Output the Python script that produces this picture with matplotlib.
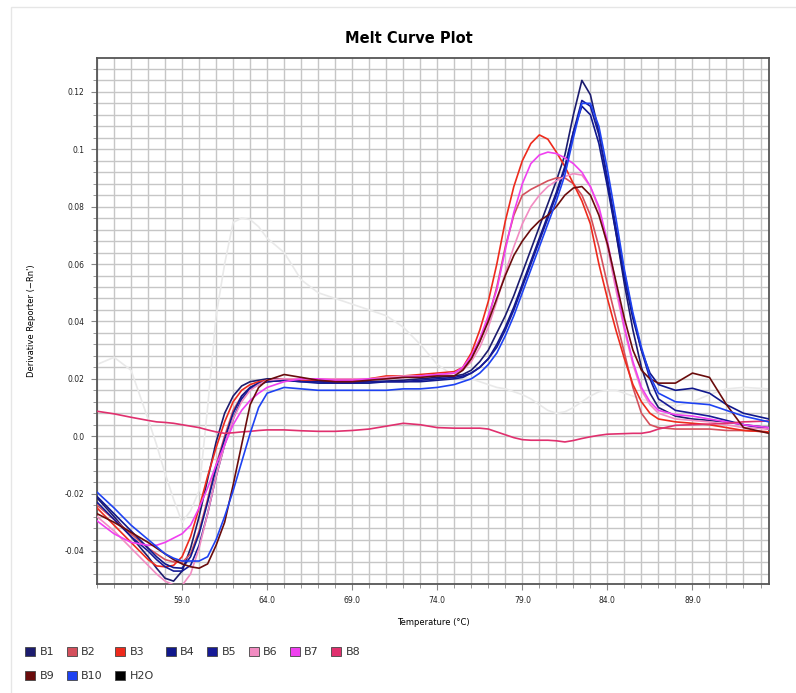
import numpy as np
import matplotlib
matplotlib.use("Agg")
import matplotlib.pyplot as plt
from matplotlib.patches import Patch, Rectangle
from matplotlib.ticker import MultipleLocator, FixedLocator

# temperature grid (deg C) shared by all wells
temps = [54, 55, 56, 57, 57.5, 58, 58.5, 59, 59.5, 60, 60.5, 61,
         61.5, 62, 62.5, 63, 63.5, 64, 65, 66, 67, 68, 69, 70, 71, 72, 73, 74, 75,
         75.5, 76, 76.5, 77, 77.5, 78, 78.5, 79, 79.5, 80, 80.5, 81, 81.5, 82, 82.5,
         83, 83.5, 84, 84.5, 85, 85.5, 86, 86.5, 87, 88, 89, 90, 91, 92, 93.5]

b1 = [-0.0215, -0.028, -0.035, -0.042, -0.046, -0.0495, -0.0505, -0.047, -0.039, -0.028, -0.015, -0.002,
      0.008, 0.014, 0.0175, 0.019, 0.0195, 0.020, 0.020, 0.0195, 0.019, 0.019, 0.019, 0.019, 0.0192, 0.0195, 0.020, 0.0205, 0.021,
      0.0215, 0.023, 0.026, 0.030, 0.036, 0.042, 0.049, 0.057, 0.065, 0.073, 0.081, 0.089, 0.098, 0.112, 0.124,
      0.119, 0.106, 0.089, 0.071, 0.053, 0.037, 0.024, 0.015, 0.010, 0.007, 0.006, 0.0055, 0.005, 0.004, 0.003]
b2 = [-0.024, -0.029, -0.034, -0.039, -0.041, -0.043, -0.0438, -0.044, -0.041, -0.033, -0.022, -0.010,
      0.000, 0.009, 0.014, 0.017, 0.0185, 0.019, 0.0195, 0.0195, 0.0195, 0.0195, 0.020, 0.020, 0.0205, 0.021, 0.021, 0.0215, 0.022,
      0.0235, 0.027, 0.033, 0.041, 0.052, 0.066, 0.077, 0.084, 0.086, 0.0875, 0.089, 0.090, 0.090, 0.088, 0.084,
      0.077, 0.066, 0.053, 0.041, 0.029, 0.017, 0.008, 0.004, 0.003, 0.0025, 0.0025, 0.0025, 0.002, 0.002, 0.0015]
b3 = [-0.025, -0.031, -0.037, -0.043, -0.0452, -0.0455, -0.045, -0.042, -0.035, -0.025, -0.014, -0.004,
      0.005, 0.012, 0.016, 0.018, 0.019, 0.0195, 0.020, 0.0195, 0.0195, 0.0195, 0.0195, 0.020, 0.021, 0.021, 0.0215, 0.022, 0.0225,
      0.024, 0.029, 0.037, 0.047, 0.060, 0.075, 0.087, 0.096, 0.102, 0.105, 0.1035, 0.099, 0.094, 0.088, 0.082,
      0.074, 0.060, 0.048, 0.037, 0.027, 0.018, 0.012, 0.008, 0.006, 0.005, 0.0045, 0.004, 0.003, 0.002, 0.0015]
b4 = [-0.021, -0.027, -0.033, -0.039, -0.042, -0.0445, -0.0458, -0.046, -0.042, -0.034, -0.023, -0.011,
      -0.001, 0.008, 0.014, 0.017, 0.0185, 0.019, 0.0195, 0.019, 0.0185, 0.0185, 0.0185, 0.0185, 0.019, 0.019, 0.019, 0.0195, 0.020,
      0.0205, 0.022, 0.024, 0.027, 0.032, 0.038, 0.045, 0.053, 0.061, 0.069, 0.077, 0.085, 0.094, 0.106, 0.115,
      0.112, 0.102, 0.087, 0.071, 0.055, 0.041, 0.030, 0.022, 0.018, 0.016, 0.0167, 0.015, 0.011, 0.008, 0.006]
b5 = [-0.023, -0.029, -0.035, -0.040, -0.043, -0.0455, -0.047, -0.047, -0.045, -0.038, -0.027, -0.014,
      -0.003, 0.006, 0.013, 0.0165, 0.018, 0.019, 0.0195, 0.019, 0.019, 0.0185, 0.0185, 0.019, 0.019, 0.019, 0.0195, 0.020, 0.0205,
      0.021, 0.022, 0.024, 0.027, 0.031, 0.037, 0.044, 0.052, 0.060, 0.068, 0.076, 0.084, 0.093, 0.106, 0.117,
      0.115, 0.105, 0.090, 0.073, 0.057, 0.042, 0.030, 0.020, 0.013, 0.009, 0.008, 0.007, 0.0055, 0.004, 0.0025]
b6 = [-0.028, -0.033, -0.039, -0.045, -0.048, -0.0505, -0.0518, -0.052, -0.048, -0.039, -0.027, -0.014,
      -0.003, 0.006, 0.012, 0.016, 0.018, 0.0195, 0.020, 0.020, 0.020, 0.020, 0.020, 0.020, 0.0205, 0.021, 0.021, 0.0215, 0.022,
      0.023, 0.026, 0.031, 0.038, 0.047, 0.057, 0.066, 0.074, 0.080, 0.084, 0.087, 0.089, 0.0905, 0.0915, 0.091,
      0.087, 0.079, 0.066, 0.051, 0.037, 0.025, 0.016, 0.011, 0.008, 0.006, 0.0055, 0.005, 0.004, 0.003, 0.0025]
b7 = [-0.0295, -0.034, -0.037, -0.038, -0.038, -0.037, -0.0355, -0.034, -0.031, -0.025, -0.018, -0.010,
      -0.003, 0.004, 0.009, 0.0125, 0.015, 0.017, 0.019, 0.020, 0.020, 0.0195, 0.0195, 0.020, 0.020, 0.0205, 0.021, 0.0215, 0.022,
      0.024, 0.028, 0.034, 0.042, 0.051, 0.065, 0.078, 0.088, 0.095, 0.098, 0.099, 0.0985, 0.097, 0.095, 0.092,
      0.087, 0.080, 0.068, 0.053, 0.038, 0.026, 0.017, 0.012, 0.009, 0.0075, 0.007, 0.006, 0.005, 0.004, 0.003]
b8 = [0.0087, 0.0078, 0.0066, 0.0055, 0.005, 0.0048, 0.0045, 0.004, 0.0035, 0.003, 0.0022, 0.0015,
      0.001, 0.0012, 0.0015, 0.0017, 0.002, 0.0022, 0.0022, 0.0019, 0.0017, 0.0017, 0.002, 0.0025, 0.0035, 0.0045, 0.004, 0.003, 0.0028,
      0.0028, 0.0028, 0.0028, 0.0025, 0.0015, 0.0005, -0.0005, -0.0012, -0.0014, -0.0014, -0.0014, -0.0016, -0.002, -0.0015, -0.0008,
      -0.0002, 0.0003, 0.0007, 0.0008, 0.0009, 0.001, 0.001, 0.0015, 0.0025, 0.0038, 0.004, 0.0042, 0.0045, 0.005, 0.0053]
b9 = [-0.027, -0.030, -0.0335, -0.037, -0.039, -0.041, -0.043, -0.0445, -0.0455, -0.046, -0.0445, -0.038,
      -0.030, -0.017, -0.003, 0.011, 0.017, 0.0195, 0.0215, 0.0205, 0.0195, 0.019, 0.019, 0.0195, 0.020, 0.0205, 0.0205, 0.021, 0.021,
      0.023, 0.027, 0.033, 0.040, 0.048, 0.056, 0.063, 0.068, 0.072, 0.075, 0.077, 0.080, 0.084, 0.0865, 0.087,
      0.084, 0.077, 0.067, 0.054, 0.041, 0.030, 0.023, 0.020, 0.0185, 0.0185, 0.022, 0.0205, 0.011, 0.003, 0.001]
b10 = [-0.0195, -0.025, -0.031, -0.036, -0.0385, -0.041, -0.0425, -0.0435, -0.0435, -0.0435, -0.042, -0.036,
       -0.028, -0.019, -0.009, 0.001, 0.010, 0.015, 0.017, 0.0165, 0.016, 0.016, 0.016, 0.016, 0.016, 0.0165, 0.0165, 0.017, 0.018,
       0.019, 0.020, 0.022, 0.025, 0.029, 0.035, 0.042, 0.050, 0.058, 0.066, 0.074, 0.082, 0.091, 0.104, 0.116,
       0.116, 0.108, 0.093, 0.076, 0.058, 0.043, 0.031, 0.021, 0.015, 0.012, 0.0115, 0.011, 0.009, 0.007, 0.005]
# water control, shown greyed out on the plot
h2o = [0.025, 0.0275, 0.023, 0.006, -0.003, -0.013, -0.022, -0.030, -0.026, -0.019, 0.010, 0.042,
       0.060, 0.0745, 0.076, 0.0755, 0.073, 0.069, 0.064, 0.0545, 0.050, 0.048, 0.046, 0.044, 0.042, 0.038, 0.032, 0.025, 0.021,
       0.0205, 0.020, 0.019, 0.018, 0.017, 0.0165, 0.0155, 0.0145, 0.013, 0.011, 0.009, 0.008, 0.0085, 0.010, 0.012,
       0.014, 0.0155, 0.016, 0.016, 0.015, 0.014, 0.013, 0.012, 0.011, 0.0105, 0.012, 0.0145, 0.0165, 0.017, 0.0165]

wells = ["B1", "B2", "B3", "B4", "B5", "B6", "B7", "B8", "B9", "B10", "H2O"]
series = [b1, b2, b3, b4, b5, b6, b7, b8, b9, b10, h2o]
colors = ["#1c1c6e", "#d4505c", "#ee2a1c", "#10188c", "#161a96", "#f28cc2",
          "#f040f0", "#e0306e", "#6a0c0c", "#1e42f2", "#000000"]

xticks = [59.0, 64.0, 69.0, 74.0, 79.0, 84.0, 89.0]
yticks = [-0.04, -0.02, 0.0, 0.02, 0.04, 0.06, 0.08, 0.1, 0.12]
ytick_labels = ["-0.04", "-0.02", "0.0", "0.02", "0.04", "0.06", "0.08", "0.1", "0.12"]

fig = plt.figure(figsize=(7.96, 6.93), dpi=100)
ax = fig.add_axes([0.1219, 0.1573, 0.8442, 0.759])

# outer light frame around the whole panel
fig.patches.append(Rectangle((0.014, -0.01), 1.0, 1.0, transform=fig.transFigure,
                             fill=False, edgecolor="#e6e6e6", linewidth=1.0))

for name, vals, col in zip(wells, series, colors):
    if name == "H2O":
        ax.plot(temps, vals, color="#e9e9e9", linewidth=1.2, zorder=2)
    else:
        ax.plot(temps, vals, color=col, linewidth=1.2, zorder=3)

ax.set_xlim(54.0, 93.5)
ax.set_ylim(-0.0515, 0.1318)

ax.xaxis.set_major_locator(FixedLocator(xticks))
ax.xaxis.set_minor_locator(MultipleLocator(1.0))
ax.set_xticklabels(["%.1f" % t for t in xticks])
ax.yaxis.set_major_locator(FixedLocator(yticks))
ax.yaxis.set_minor_locator(MultipleLocator(0.004))
ax.set_yticklabels(ytick_labels)

ax.grid(True, which="both", color="#c6c6c6", linewidth=1.0, zorder=0)
ax.set_axisbelow(True)
ax.tick_params(which="both", labelsize=5.5, colors="#888888", labelcolor="#222222")
ax.tick_params(which="major", length=4, pad=5)
ax.tick_params(which="minor", length=3)
for s in ax.spines.values():
    s.set_color("#555555")
    s.set_linewidth(1.3)

ax.set_xlabel("Temperature (°C)", fontsize=6, labelpad=9)
ax.set_ylabel("Derivative Reporter (\u2212Rn')", fontsize=6, labelpad=21)
fig.text(0.514, 0.945, "Melt Curve Plot", ha="center", va="center",
         fontsize=10.5, fontweight="bold")

# legend in row-major order (matplotlib fills columns first)
order = [0, 8, 1, 9, 2, 10, 3, 4, 5, 6, 7]
handles = [Patch(facecolor=colors[i], edgecolor="#444444", linewidth=0.6, label=wells[i]) for i in order]
fig.legend(handles=handles, loc="upper left", bbox_to_anchor=(0.022, 0.078), ncol=8,
           frameon=False, fontsize=8, handlelength=0.9, handleheight=0.9,
           handletextpad=0.4, columnspacing=1.1, labelspacing=1.2, borderpad=0.2,
           labelcolor="#333333")

fig.savefig("out.png", dpi=100)
